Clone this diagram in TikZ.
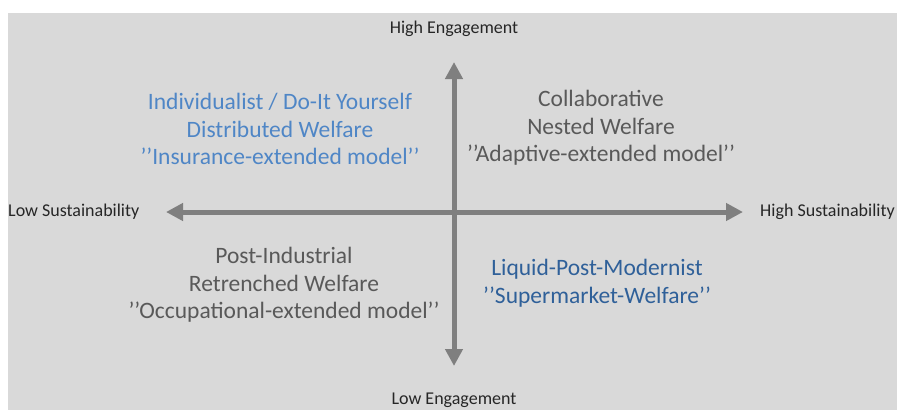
\documentclass[tikz,border=0pt]{standalone}
\usepackage{fontspec}
\setmainfont{Carlito}
\usetikzlibrary{arrows.meta}
\definecolor{bgc}{HTML}{D9D9D9}
\definecolor{axc}{HTML}{7F7F7F}
\definecolor{txg}{HTML}{595959}
\definecolor{bluea}{HTML}{4F86C6}
\definecolor{blueb}{HTML}{2F6099}
\tikzset{
  axis/.style={draw=axc, line width=5pt, -{Triangle[width=17pt,length=17pt]}},
  axlabel/.style={font=\fontsize{18}{20}\selectfont, text=black!85, inner sep=0pt},
  quad/.style={font=\fontsize{23.5}{27.5}\selectfont, align=center, inner sep=0pt},
}
\begin{document}
\begin{tikzpicture}[x=1pt,y=-1pt]
\useasboundingbox (0,0) rectangle (897,410);
\fill[white] (0,0) rectangle (897,410);
\fill[bgc] (8,13) rectangle (897,410);
\coordinate (c) at (454,212);
\coordinate (top) at (454,62);
\coordinate (bot) at (454,366);
\coordinate (lft) at (166,212);
\coordinate (rgt) at (743,212);
\draw[axis] (c) -- (top);
\draw[axis] (c) -- (bot);
\draw[axis] (c) -- (lft);
\draw[axis] (c) -- (rgt);
\node[axlabel] (he) at (454,29) {High Engagement};
\node[axlabel] (le) at (454,400) {Low Engagement};
\node[axlabel, anchor=west] (ls) at (8,212) {Low Sustainability};
\node[axlabel, anchor=west] (hs) at (760,212) {High Sustainability};
\node[quad, text=bluea] (tl) at (280,129) {Individualist / Do-It Yourself\\Distributed Welfare\\{'}{'}Insurance-extended model{'}{'}};
\node[quad, text=txg] (tr) at (601,128) {Collaborative\\Nested Welfare\\{'}{'}Adaptive-extended model{'}{'}};
\node[quad, text=txg] (bl) at (284,285) {Post-Industrial\\Retrenched Welfare\\{'}{'}Occupational-extended model{'}{'}};
\node[quad, text=blueb] (br) at (597,283) {Liquid-Post-Modernist\\{'}{'}Supermarket-Welfare{'}{'}};
\end{tikzpicture}
\end{document}
